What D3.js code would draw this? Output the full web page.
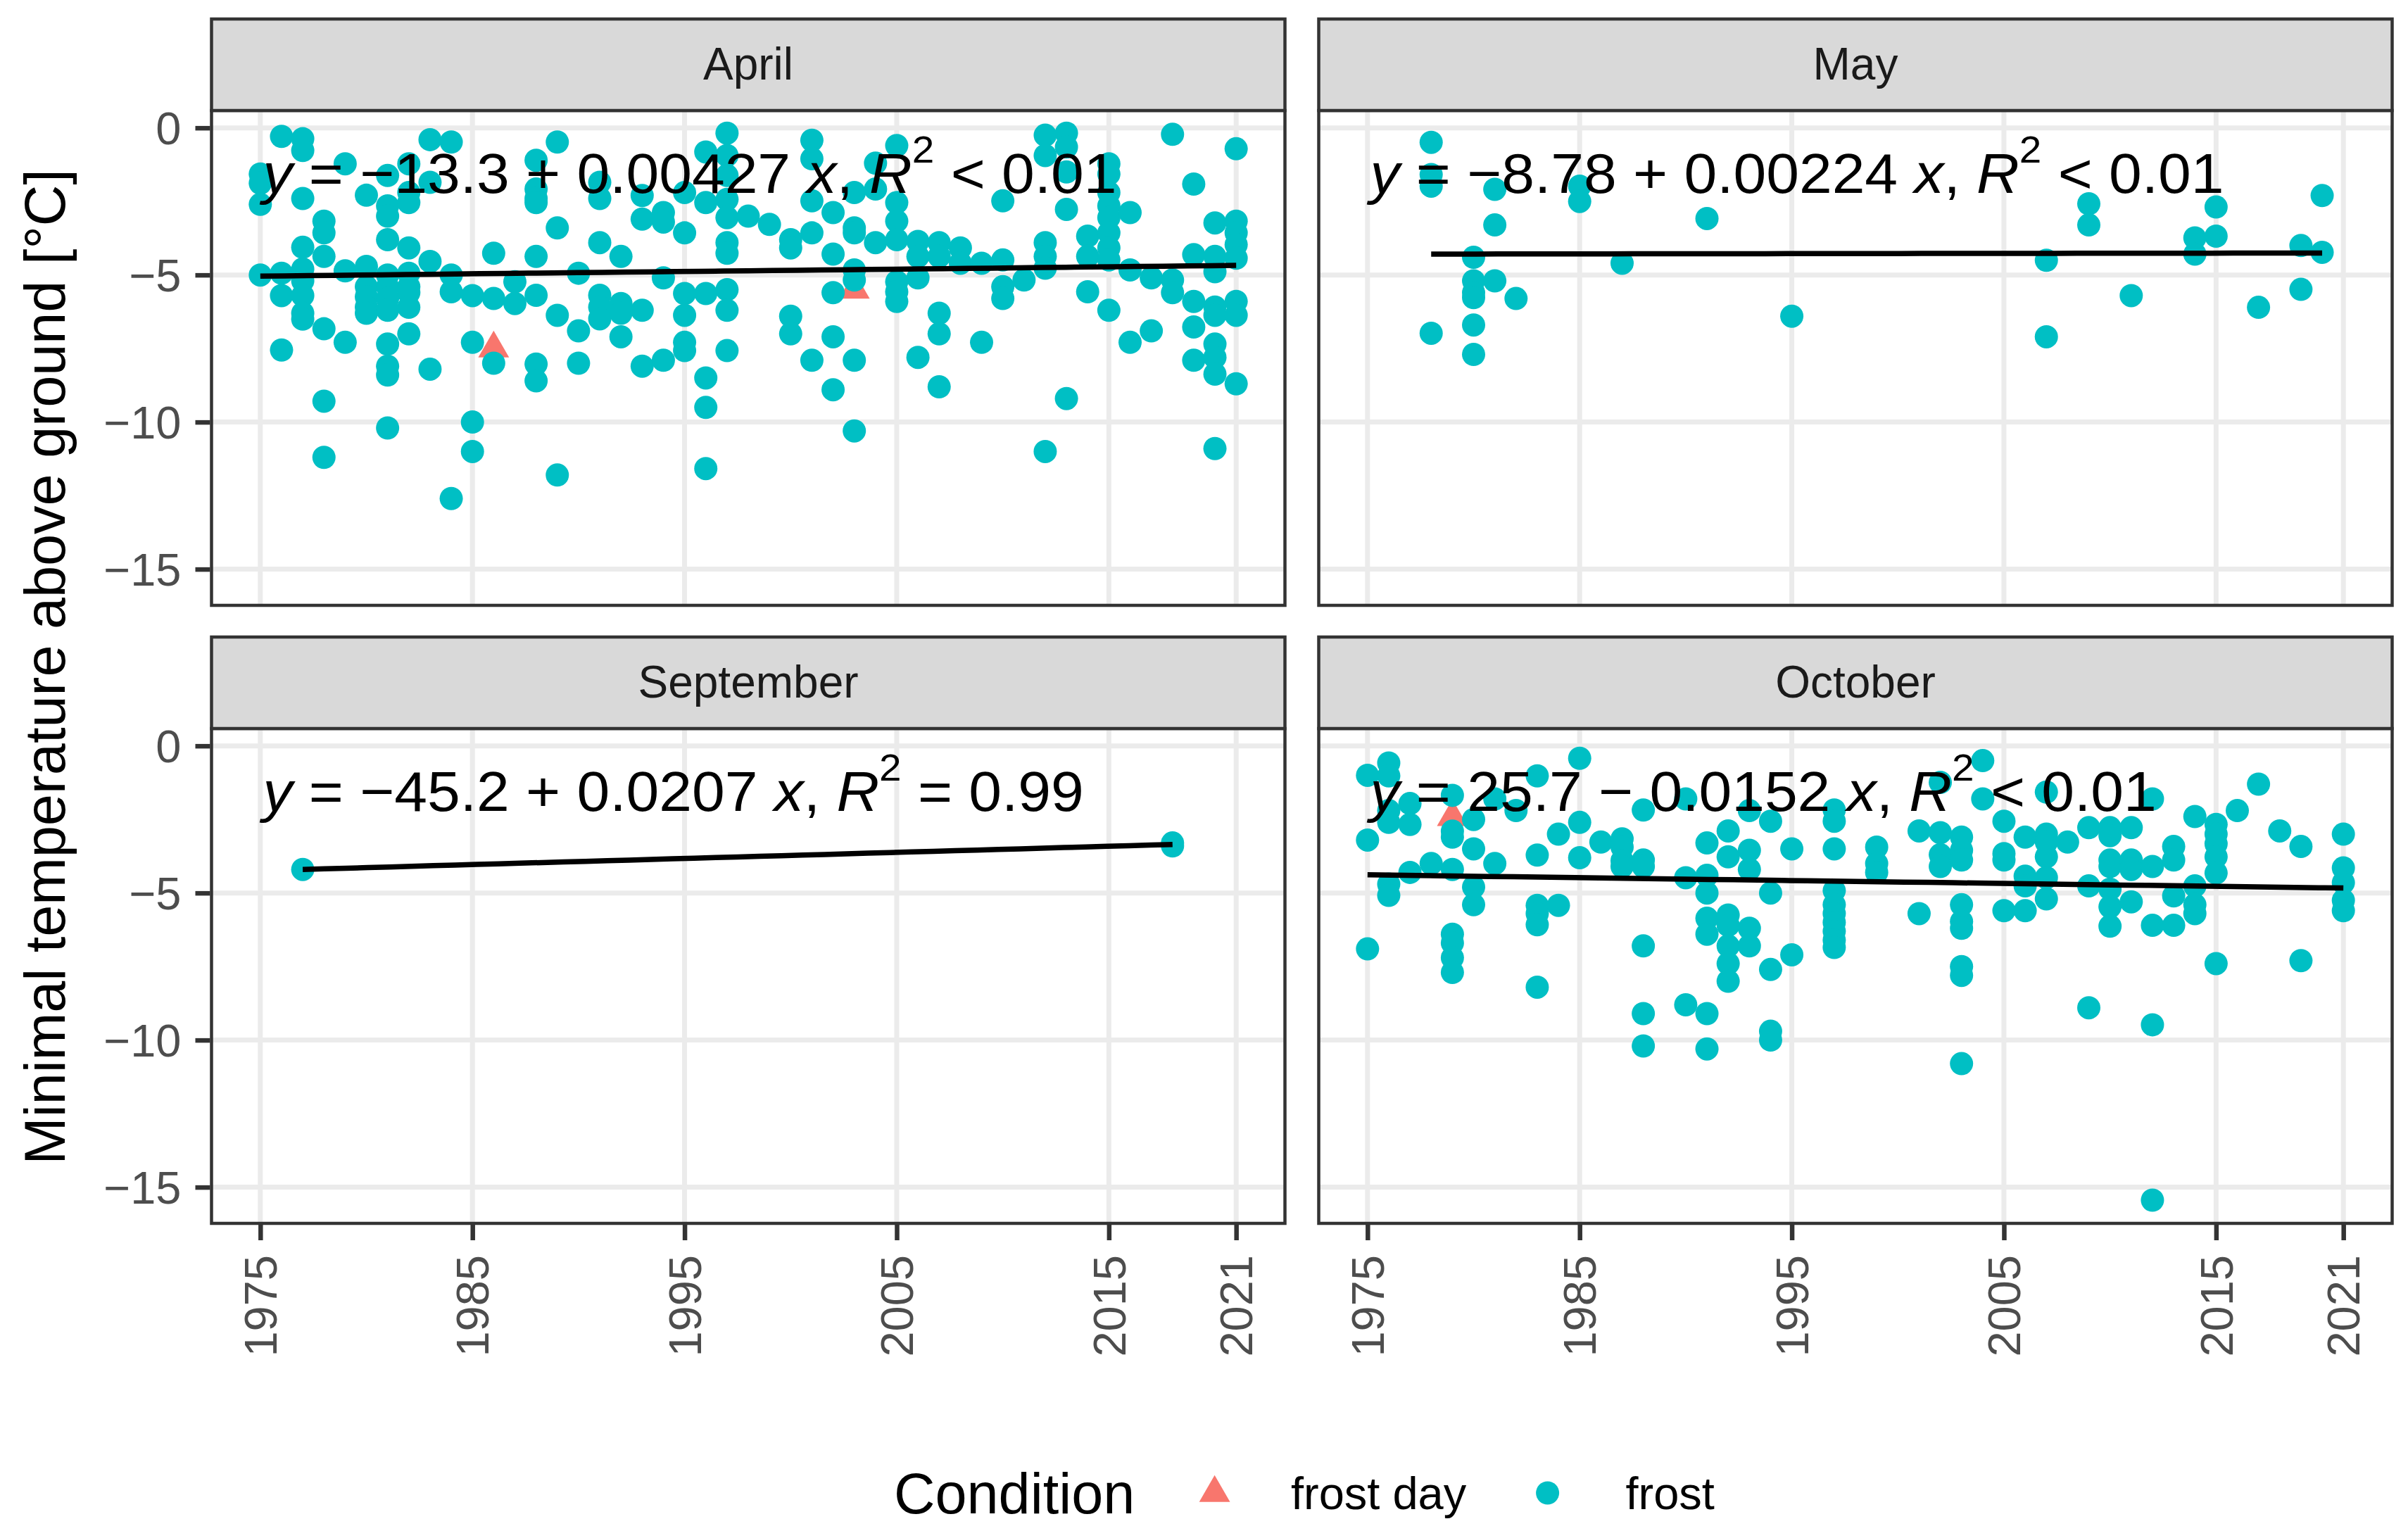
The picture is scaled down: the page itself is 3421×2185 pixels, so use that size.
<!DOCTYPE html>
<html>
<head>
<meta charset="utf-8">
<script src="https://cdn.jsdelivr.net/npm/d3@7"></script>
<style>
body{margin:0;background:#fff}
text{font-family:"Liberation Sans",Arial,Helvetica,sans-serif}
</style>
</head>
<body>
<svg id="chart" width="3421" height="2185"></svg>
<script>
// ---------------- DATA ----------------
const categories = ["April", "May", "September", "October"];
const xTickYears = [1975, 1985, 1995, 2005, 2015, 2021];
const yTickValues = [0, -5, -10, -15];
const conditions = ["frost day", "frost"];

// each row: [year, value, value, ...]
const aprilFrost = [
  [1975,-1.57,-1.88,-2.6,-5.0],
  [1976,-0.29,-4.94,-5.7,-7.55],
  [1977,-0.37,-0.77,-2.4,-4.06,-4.8,-5.2,-5.7,-6.3,-6.5],
  [1978,-3.17,-3.57,-4.37,-6.83,-9.29,-11.2],
  [1979,-1.22,-4.86,-7.29],
  [1980,-2.29,-4.71,-5.4,-5.74,-6.09,-6.3],
  [1981,-1.62,-2.65,-3.0,-3.8,-5.0,-5.4,-5.8,-6.2,-7.35,-8.1,-8.4,-10.2],
  [1982,-1.22,-2.2,-2.54,-4.08,-4.94,-5.4,-5.6,-6.1,-7.0],
  [1983,-0.4,-1.85,-4.54,-8.2],
  [1984,-0.48,-5.0,-5.57,-12.6],
  [1985,-5.7,-7.29,-10.0,-11.0],
  [1986,-4.26,-5.8,-8.0],
  [1987,-5.23,-5.97],
  [1988,-1.1,-2.08,-2.4,-2.54,-4.37,-5.69,-8.03,-8.6],
  [1989,-0.48,-3.4,-6.37,-11.8],
  [1990,-4.94,-6.9,-8.0],
  [1991,-1.85,-2.4,-3.9,-5.69,-6.09,-6.49],
  [1992,-4.37,-5.97,-6.3,-7.1],
  [1993,-2.3,-3.1,-6.2,-8.1],
  [1994,-2.88,-3.2,-5.1,-7.9],
  [1995,-2.2,-3.57,-5.63,-6.37,-7.29,-7.57],
  [1996,-0.82,-2.54,-5.63,-8.5,-9.5,-11.58],
  [1997,-0.18,-0.94,-1.62,-2.43,-3.05,-3.9,-4.26,-5.5,-6.2,-7.57],
  [1998,-3.0],
  [1999,-3.28],
  [2000,-3.8,-4.08,-6.4,-7.0],
  [2001,-0.42,-1.05,-2.48,-3.57,-7.9],
  [2002,-2.88,-4.29,-5.6,-7.1,-8.9],
  [2003,-2.2,-3.4,-3.57,-4.83,-5.17,-7.9,-10.3],
  [2004,-1.2,-2.08,-3.9],
  [2005,-0.6,-2.54,-3.17,-3.8,-5.23,-5.57,-5.9],
  [2006,-3.86,-4.37,-5.1,-7.8],
  [2007,-3.9,-4.37,-6.3,-7.0,-8.8],
  [2008,-4.08,-4.6],
  [2009,-4.6,-7.29],
  [2010,-2.48,-4.49,-5.4,-5.8],
  [2011,-5.17],
  [2012,-0.25,-0.94,-3.9,-4.37,-4.77,-11.0],
  [2013,-0.18,-0.65,-1.5,-2.77,-9.2],
  [2014,-3.68,-4.37,-5.57],
  [2015,-1.22,-1.57,-2.2,-2.65,-3.05,-3.57,-4.08,-4.49,-6.2],
  [2016,-2.88,-4.83,-7.29],
  [2017,-5.1,-6.9],
  [2018,-0.22,-5.17,-5.6],
  [2019,-1.91,-4.31,-5.9,-6.77,-7.9],
  [2020,-3.23,-4.37,-4.89,-6.09,-6.37,-7.35,-7.8,-8.37,-10.9],
  [2021,-0.71,-3.17,-3.57,-3.97,-4.43,-5.9,-6.37,-8.7]
];
const aprilFrostDay = [[1986,-7.5],[2003,-5.5]];

const mayFrost = [
  [1978,-0.49,-1.59,-1.98,-6.98],
  [1980,-4.4,-5.2,-5.6,-5.77,-6.7,-7.7],
  [1981,-2.09,-3.3,-5.2],
  [1982,-5.8],
  [1985,-1.98,-2.5],
  [1987,-4.6],
  [1991,-3.08],
  [1995,-6.4],
  [2007,-4.5,-7.1],
  [2009,-2.58,-3.3],
  [2011,-5.7],
  [2014,-3.74,-4.29],
  [2015,-2.69,-3.68],
  [2017,-6.1],
  [2019,-4.0,-5.49],
  [2020,-2.3,-4.23]
];
const mayFrostDay = [];

const septemberFrost = [
  [1977,-4.2],
  [2018,-3.3,-3.4]
];
const septemberFrostDay = [];

const octoberFrost = [
  [1975,-1.0,-3.2,-6.9],
  [1976,-0.58,-1.02,-2.2,-2.6,-4.7,-5.08],
  [1977,-1.96,-2.67,-4.3],
  [1978,-4.0],
  [1979,-1.68,-2.9,-3.1,-4.2,-6.4,-6.7,-7.2,-7.7],
  [1980,-2.5,-3.5,-4.8,-5.4],
  [1981,-1.8,-4.0],
  [1982,-2.2],
  [1983,-1.02,-3.71,-5.42,-5.7,-6.08,-8.2],
  [1984,-3.0,-5.42],
  [1985,-0.42,-2.6,-3.8],
  [1986,-3.27],
  [1987,-3.16,-3.44,-3.9,-4.1],
  [1988,-2.18,-3.88,-4.1,-6.8,-9.1,-10.2],
  [1990,-1.8,-4.48,-8.8],
  [1991,-3.3,-4.4,-5.0,-5.86,-6.4,-9.1,-10.3],
  [1992,-2.89,-3.77,-5.75,-6.1,-6.8,-7.4,-8.0],
  [1993,-2.2,-3.55,-4.2,-6.2,-6.8],
  [1994,-2.56,-5.0,-7.6,-9.7,-10.0],
  [1995,-3.5,-7.1],
  [1997,-2.18,-2.56,-3.5,-4.92,-5.4,-5.7,-6.0,-6.3,-6.6,-6.85],
  [1999,-3.44,-4.0,-4.3],
  [2001,-2.89,-5.7],
  [2002,-1.24,-2.95,-3.7,-4.1],
  [2003,-3.1,-3.55,-3.88,-5.4,-5.97,-6.2,-7.5,-7.8,-10.8],
  [2004,-0.5,-1.8],
  [2005,-2.56,-3.66,-3.88,-5.6],
  [2006,-3.1,-4.43,-4.76,-5.6],
  [2007,-1.57,-3.0,-3.27,-3.77,-4.48,-5.2],
  [2008,-3.27],
  [2009,-2.78,-4.76,-8.9],
  [2010,-2.78,-3.05,-3.88,-4.1,-4.87,-5.47,-6.13],
  [2011,-2.78,-3.88,-4.2,-5.3],
  [2012,-1.8,-4.1,-6.1,-9.48,-15.44],
  [2013,-3.42,-3.88,-5.1,-6.1],
  [2014,-2.4,-4.76,-5.4,-5.7],
  [2015,-2.67,-3.0,-3.33,-3.77,-4.32,-7.4],
  [2016,-2.2],
  [2017,-1.3],
  [2018,-2.89],
  [2019,-3.42,-7.3],
  [2021,-3.0,-4.15,-4.65,-5.25,-5.6]
];
const octoberFrostDay = [[1979,-2.42]];

const eqCoefText = ["\u221213.3 + 0.00427", "\u22128.78 + 0.00224", "\u221245.2 + 0.0207", "25.7 \u2212 0.0152"];
const eqR2Text = ["< 0.01", "< 0.01", "= 0.99", "< 0.01"];

// ---------------- LAYOUT / STYLE ----------------
const W = 3421, H = 2185;
const colRanges = [[300.5, 1825.5], [1873.5, 3398.5]];
const rowBoxes = [{strip: 27, top: 157, bottom: 860}, {strip: 905, top: 1035, bottom: 1738}];
const xDomain = [1972.7, 2023.3];
const yDomain = [-16.23, 0.59];
const colors = {"frost day": "#F8766D", "frost": "#00BFC4"};
const FONT = '"Liberation Sans",Arial,Helvetica,sans-serif';

const frostSets = [aprilFrost, mayFrost, septemberFrost, octoberFrost];
const frostDaySets = [aprilFrostDay, mayFrostDay, septemberFrostDay, octoberFrostDay];

function expand(rows, cond) {
  const out = [];
  rows.forEach(r => { for (let i = 1; i < r.length; i++) out.push({year: r[0], value: r[i], cond}); });
  return out;
}

const svg = d3.select("#chart");
svg.append("rect").attr("width", W).attr("height", H).attr("fill", "#ffffff");

const triPath = d3.symbol().type(d3.symbolTriangle).size(832)();

categories.forEach((name, i) => {
  const col = i % 2, row = Math.floor(i / 2);
  const [xl, xr] = colRanges[col];
  const box = rowBoxes[row];
  const x = d3.scaleLinear().domain(xDomain).range([xl, xr]);
  const y = d3.scaleLinear().domain(yDomain).range([box.bottom, box.top]);
  const g = svg.append("g");

  // panel background
  g.append("rect").attr("x", xl).attr("y", box.top).attr("width", xr - xl).attr("height", box.bottom - box.top).attr("fill", "#fff");

  // grid
  const clipId = "clip" + i;
  svg.append("clipPath").attr("id", clipId).append("rect")
    .attr("x", xl).attr("y", box.top).attr("width", xr - xl).attr("height", box.bottom - box.top);
  const grid = g.append("g").attr("clip-path", `url(#${clipId})`);
  grid.selectAll("line.gx").data(xTickYears).join("line")
    .attr("class", "gx")
    .attr("x1", d => x(d)).attr("x2", d => x(d)).attr("y1", box.top).attr("y2", box.bottom)
    .attr("stroke", "#EBEBEB").attr("stroke-width", 7);
  grid.selectAll("line.gy").data(yTickValues).join("line")
    .attr("class", "gy")
    .attr("y1", d => y(d)).attr("y2", d => y(d)).attr("x1", xl).attr("x2", xr)
    .attr("stroke", "#EBEBEB").attr("stroke-width", 7);

  // points
  const fd = expand(frostDaySets[i], "frost day");
  const fr = expand(frostSets[i], "frost");
  const pts = g.append("g").attr("clip-path", `url(#${clipId})`);
  pts.selectAll("path.tri").data(fd).join("path")
    .attr("class", "tri")
    .attr("d", triPath)
    .attr("transform", d => `translate(${x(d.year)},${y(d.value)})`)
    .attr("fill", colors["frost day"]);
  pts.selectAll("circle").data(fr).join("circle")
    .attr("cx", d => x(d.year)).attr("cy", d => y(d.value)).attr("r", 16.5)
    .attr("fill", colors["frost"]);

  // linear regression on all points of the panel
  const all = fd.concat(fr);
  const mx = d3.mean(all, d => d.year), my = d3.mean(all, d => d.value);
  const sxy = d3.sum(all, d => (d.year - mx) * (d.value - my));
  const sxx = d3.sum(all, d => (d.year - mx) ** 2);
  const slope = sxy / sxx, icpt = my - slope * mx;
  const [x0, x1] = d3.extent(all, d => d.year);
  const line = d3.line().x(d => x(d)).y(d => y(icpt + slope * d));
  pts.append("path").datum(d3.range(x0, x1 + 0.5, (x1 - x0) / 40))
    .attr("d", line).attr("fill", "none").attr("stroke", "#000").attr("stroke-width", 7.5);

  // equation label
  const eq = g.append("text")
    .attr("transform", `translate(${xl + 73},${box.top + 117}) scale(1.05,1)`)
    .attr("font-size", 80).attr("fill", "#000").style("white-space", "pre");
  eq.append("tspan").attr("font-style", "italic").text("y");
  eq.append("tspan").text(" = " + eqCoefText[i] + " ");
  eq.append("tspan").attr("font-style", "italic").text("x");
  eq.append("tspan").text(", ");
  eq.append("tspan").attr("font-style", "italic").text("R");
  eq.append("tspan").attr("font-size", 54).attr("dy", -43).text("2");
  eq.append("tspan").attr("dy", 43).text(" " + eqR2Text[i]);

  // border
  g.append("rect").attr("x", xl).attr("y", box.top).attr("width", xr - xl).attr("height", box.bottom - box.top)
    .attr("fill", "none").attr("stroke", "#333333").attr("stroke-width", 4.5);

  // strip
  g.append("rect").attr("x", xl).attr("y", box.strip).attr("width", xr - xl).attr("height", box.top - box.strip)
    .attr("fill", "#D9D9D9").attr("stroke", "#333333").attr("stroke-width", 4.5);
  g.append("text").attr("x", (xl + xr) / 2).attr("y", box.strip + 86).attr("text-anchor", "middle")
    .attr("font-size", 64).attr("fill", "#1A1A1A").text(name);

  // y axis (left column)
  if (col === 0) {
    const ax = g.append("g").attr("transform", `translate(${xl - 2},0)`)
      .call(d3.axisLeft(y).tickValues(yTickValues).tickSize(21).tickPadding(20)
        .tickFormat(d => d < 0 ? "\u2212" + Math.abs(d) : String(d)));
    ax.select(".domain").remove();
    ax.selectAll(".tick line").attr("stroke", "#333333").attr("stroke-width", 6.5);
    ax.selectAll(".tick text").attr("fill", "#4D4D4D").attr("font-size", 65)
      .attr("font-family", FONT).attr("dy", "0.35em");
  }
  // x axis (bottom row)
  if (row === 1) {
    const ax = g.append("g").attr("transform", `translate(0,${box.bottom + 2})`)
      .call(d3.axisBottom(x).tickValues(xTickYears).tickSize(22).tickFormat(d3.format("d")));
    ax.select(".domain").remove();
    ax.selectAll(".tick line").attr("stroke", "#333333").attr("stroke-width", 6.5);
    ax.selectAll(".tick text").attr("fill", "#4D4D4D").attr("font-size", 65)
      .attr("font-family", FONT)
      .attr("transform", "rotate(-90)").attr("x", -43).attr("y", 0).attr("dy", "0.35em")
      .attr("text-anchor", "end");
  }
});

// y axis title
svg.append("text")
  .attr("transform", `translate(92,${(rowBoxes[0].top + rowBoxes[1].bottom) / 2}) rotate(-90)`)
  .attr("text-anchor", "middle").attr("font-size", 81).attr("fill", "#000")
  .text("Minimal temperature above ground [\u00B0C]");

// legend
const leg = svg.append("g");
leg.append("text").attr("x", 1270).attr("y", 2150).attr("font-size", 81).attr("fill", "#000").text("Condition");
const legKeyX = [1725.6, 2198.6];
const legTextX = [1834, 2309.5];
conditions.forEach((c, k) => {
  if (c === "frost day") {
    leg.append("path").attr("d", triPath).attr("transform", `translate(${legKeyX[k]},2121)`).attr("fill", colors[c]);
  } else {
    leg.append("circle").attr("cx", legKeyX[k]).attr("cy", 2121).attr("r", 16.5).attr("fill", colors[c]);
  }
  leg.append("text").attr("x", legTextX[k]).attr("y", 2144).attr("font-size", 65).attr("fill", "#000").text(c);
});
</script>
</body>
</html>
